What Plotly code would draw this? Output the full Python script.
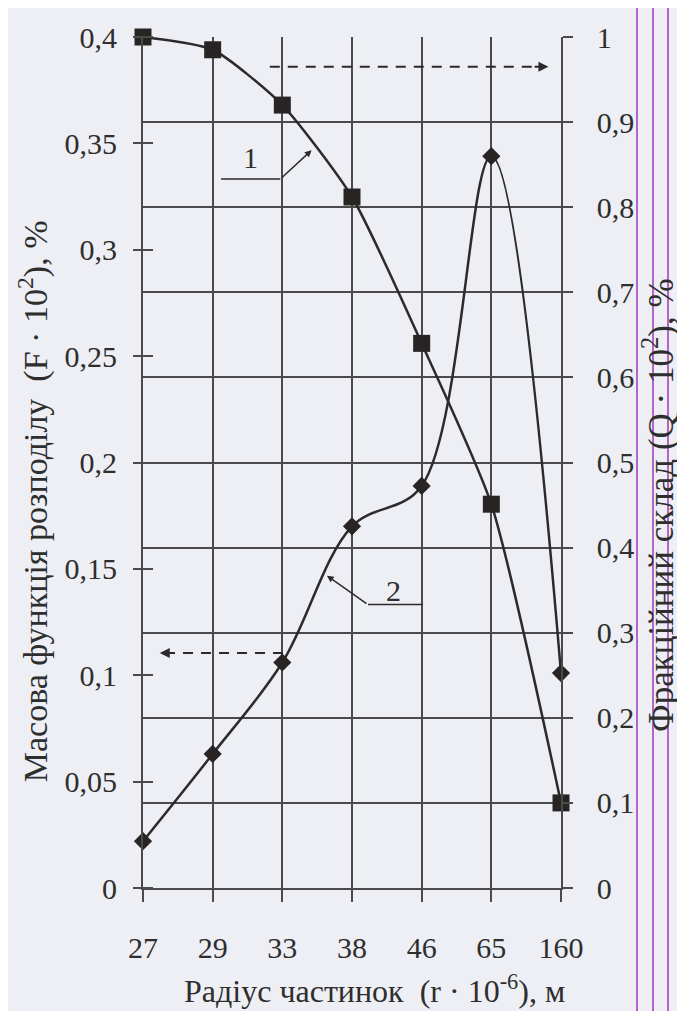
import plotly.graph_objects as go

# ---- data ----
radius = ["27", "29", "33", "38", "46", "65", "160"]          # r·10^-6, m (categories)
q_fraction = [1.0, 0.985, 0.92, 0.812, 0.64, 0.451, 0.10]     # curve 1, right axis (Q·10^2, %)
f_mass = [0.022, 0.063, 0.106, 0.170, 0.189, 0.344, 0.101]    # curve 2, left axis (F·10^2, %)

left_tickvals = [0, 0.05, 0.1, 0.15, 0.2, 0.25, 0.3, 0.35, 0.4]
left_ticktext = ["0", "0,05", "0,1", "0,15", "0,2", "0,25", "0,3", "0,35", "0,4"]
right_tickvals = [0, 0.1, 0.2, 0.3, 0.4, 0.5, 0.6, 0.7, 0.8, 0.9, 1.0]
right_ticktext = ["0", "0,1", "0,2", "0,3", "0,4", "0,5", "0,6", "0,7", "0,8", "0,9", "1"]
grid_vals = [0.1, 0.2, 0.3, 0.4, 0.5, 0.6, 0.7, 0.8, 0.9]

x_pos = list(range(len(radius)))

FONT = "Liberation Serif"
INK = "#2b2b2b"
GRID = "#4a4a4a"
BG = "#edeff4"
TXT = "#2e2e2e"

fig = go.Figure()

fig.add_trace(go.Scatter(
    x=x_pos, y=f_mass, yaxis="y", mode="lines+markers",
    line=dict(color=INK, width=2.5, shape="spline", smoothing=1.0),
    marker=dict(symbol="diamond", size=14, color="#292424"),
    cliponaxis=False, showlegend=False, hoverinfo="skip"))

fig.add_trace(go.Scatter(
    x=x_pos, y=q_fraction, yaxis="y2", mode="lines+markers",
    line=dict(color=INK, width=2.5, shape="spline", smoothing=0.6),
    marker=dict(symbol="square", size=17, color="#292424"),
    cliponaxis=False, showlegend=False, hoverinfo="skip"))

# invisible carriers so that the helper axes (left axis line, grid) are drawn
fig.add_trace(go.Scatter(x=x_pos, y=f_mass, yaxis="y3", mode="markers",
                         marker=dict(opacity=0), showlegend=False, hoverinfo="skip"))
fig.add_trace(go.Scatter(x=x_pos, y=q_fraction, yaxis="y4", mode="markers",
                         marker=dict(opacity=0), showlegend=False, hoverinfo="skip"))

tickfont = dict(family=FONT, size=30, color=TXT)

# the page adds an 8px body margin, so the figure is made 8px smaller
fig.update_layout(
    width=677, height=1003,
    margin=dict(l=135, r=124, t=20, b=123),
    paper_bgcolor=BG, plot_bgcolor=BG,
    xaxis=dict(range=[0, 6], tickvals=x_pos, ticktext=radius,
               showgrid=True, gridcolor=GRID, gridwidth=1.6,
               ticks="outside", ticklen=12, tickwidth=1.6, tickcolor=GRID,
               showline=True, linecolor=GRID, linewidth=1.6,
               zeroline=False, tickfont=tickfont, ticklabelstandoff=20),
    # left axis: ticks cross the axis line (axis placed 10px inside, ticks 20px long)
    yaxis=dict(range=[0, 0.4], tickvals=left_tickvals, ticktext=left_ticktext,
               anchor="free", position=10 / 418, side="left",
               showgrid=False, zeroline=False,
               ticks="outside", ticklen=20, tickwidth=1.6, tickcolor=GRID,
               showline=False,
               tickfont=tickfont, ticklabelstandoff=10),
    yaxis3=dict(range=[0, 0.4], overlaying="y", side="left", anchor="x",
                showticklabels=False, ticks="",
                showgrid=False, zeroline=False,
                showline=True, linecolor=GRID, linewidth=1.6),
    yaxis4=dict(range=[0, 1], overlaying="y", side="right", anchor="x",
                tickvals=grid_vals, showticklabels=False, ticks="",
                showgrid=True, gridcolor=GRID, gridwidth=1.6,
                zeroline=False, showline=False),
    yaxis2=dict(range=[0, 1], overlaying="y", side="right", anchor="x",
                tickvals=right_tickvals, ticktext=right_ticktext,
                showgrid=False, zeroline=False,
                ticks="outside", ticklen=10, tickwidth=1.6, tickcolor=GRID,
                showline=True, linecolor=GRID, linewidth=1.6,
                tickfont=tickfont, ticklabelstandoff=18),
)

ann_font = dict(family=FONT, size=30, color=TXT)
annotations = [
    # axis titles
    dict(text="Радіус частинок  (r · 10<sup>-6</sup>), м", xref="paper", yref="paper",
         x=0.555, y=-0.119, showarrow=False, font=dict(family=FONT, size=32, color=TXT),
         xanchor="center", yanchor="middle"),
    dict(text="Масова функція розподілу  (F · 10<sup>2</sup>), %", xref="paper", yref="paper",
         x=-0.262, y=0.455, showarrow=False, textangle=-90,
         font=dict(family=FONT, size=34, color=TXT),
         xanchor="center", yanchor="middle"),
    dict(text="Фракційний склад (Q · 10<sup>2</sup>), %", xref="paper", yref="paper",
         x=1.232, y=0.45, showarrow=False, textangle=-90,
         font=dict(family=FONT, size=35, color=TXT),
         xanchor="center", yanchor="middle"),
    # curve labels
    dict(text="1", xref="x", yref="y2", x=1.55, y=0.858, showarrow=False, font=ann_font),
    dict(text="2", xref="x", yref="y2", x=3.59, y=0.35, showarrow=False, font=ann_font),
    # leader arrows
    dict(text="", xref="x", yref="y2", x=2.42, y=0.867, axref="x", ayref="y2",
         ax=1.97, ay=0.833, showarrow=True, arrowhead=2, arrowsize=0.9,
         arrowwidth=1.5, arrowcolor=INK),
    dict(text="", xref="x", yref="y2", x=2.64, y=0.367, axref="x", ayref="y2",
         ax=3.23, ay=0.333, showarrow=True, arrowhead=2, arrowsize=0.9,
         arrowwidth=1.5, arrowcolor=INK),
    # dashed arrow heads
    dict(text="", xref="x", yref="y2", x=5.82, y=0.965, axref="x", ayref="y2",
         ax=5.6, ay=0.965, showarrow=True, arrowhead=2, arrowsize=1,
         arrowwidth=2, arrowcolor=INK),
    dict(text="", xref="x", yref="y2", x=0.24, y=0.276, axref="x", ayref="y2",
         ax=0.45, ay=0.276, showarrow=True, arrowhead=2, arrowsize=1,
         arrowwidth=2, arrowcolor=INK),
]

shapes = [
    dict(type="line", xref="x", yref="y2", x0=1.12, y0=0.833, x1=1.97, y1=0.833,
         line=dict(color=INK, width=1.5)),
    dict(type="line", xref="x", yref="y2", x0=4.02, y0=0.333, x1=3.23, y1=0.333,
         line=dict(color=INK, width=1.5)),
    dict(type="line", xref="x", yref="y2", x0=1.82, y0=0.965, x1=5.7, y1=0.965,
         line=dict(color=INK, width=2, dash="10px,8px")),
    dict(type="line", xref="x", yref="y2", x0=2.01, y0=0.276, x1=0.35, y1=0.276,
         line=dict(color=INK, width=2, dash="10px,8px")),
]
# page border lines of the scan
for px in [637, 653, 668, 682]:
    xp = (px - 143) / 418
    shapes.append(dict(type="line", xref="paper", yref="paper", x0=xp, x1=xp,
                       y0=-0.15, y1=1.04, line=dict(color="#b565c9", width=2)))

fig.update_layout(annotations=annotations, shapes=shapes)

fig.write_html("out.html")
